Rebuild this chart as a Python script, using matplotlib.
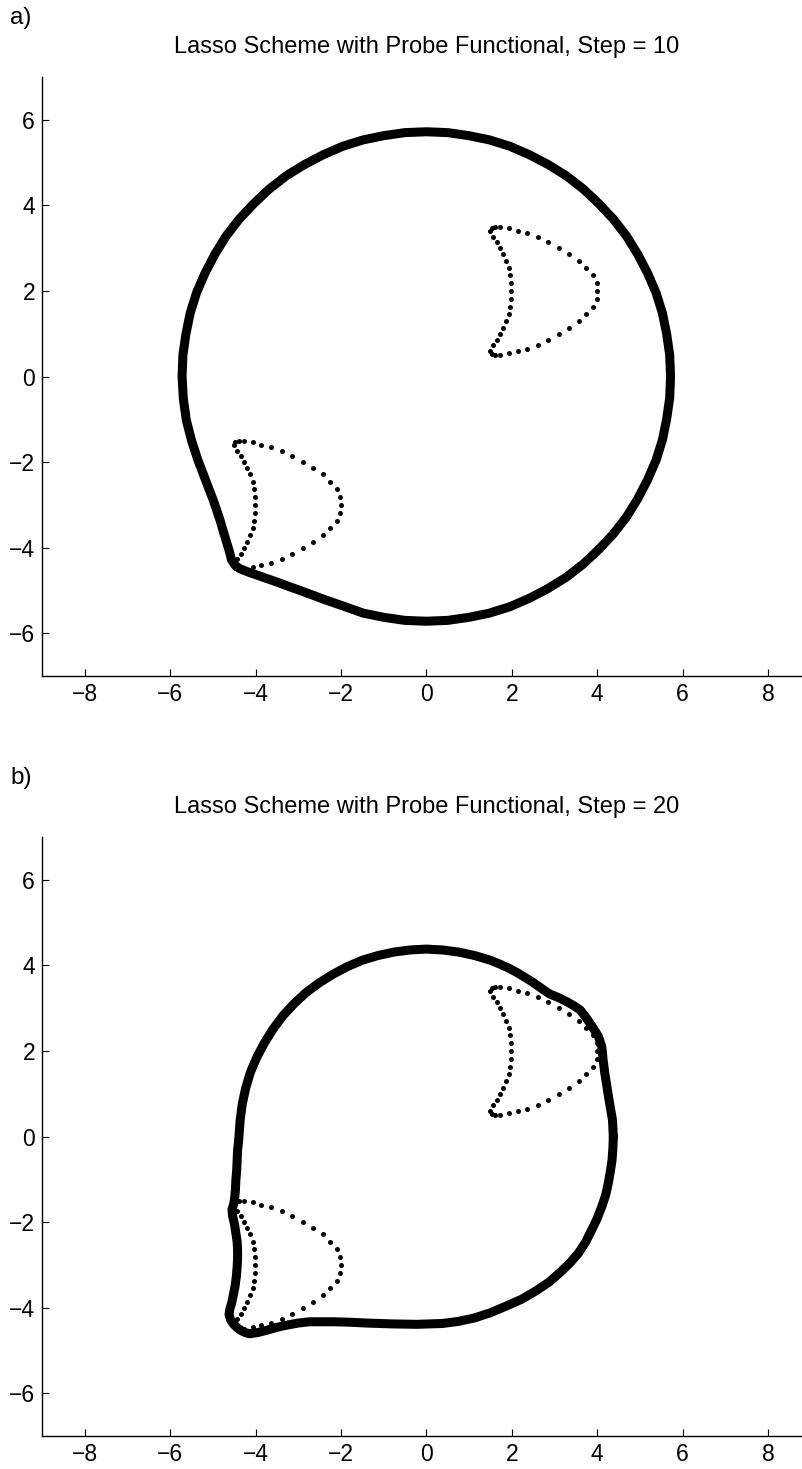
import numpy as np
import matplotlib
matplotlib.use("Agg")
import matplotlib.pyplot as plt

plt.rcParams['font.family'] = ['Liberation Sans', 'DejaVu Sans']

titles = ["Lasso Scheme with Probe Functional, Step = 10",
          "Lasso Scheme with Probe Functional, Step = 20"]
panel_labels = ["a)", "b)"]
xticks = [-8, -6, -4, -2, 0, 2, 4, 6, 8]
yticks = [-6, -4, -2, 0, 2, 4, 6]

# probe crescent (upper right)
cres1_x = [4.00, 3.99, 3.91, 3.75, 3.57, 3.35, 3.11, 2.86, 2.61, 2.36, 2.14, 1.94, 1.72, 1.61, 1.53, 1.50,
           1.57, 1.65, 1.72, 1.80, 1.86, 1.93, 1.96, 1.98, 1.98, 1.98, 1.96, 1.93, 1.86, 1.80, 1.72, 1.65,
           1.57, 1.50, 1.53, 1.61, 1.72, 1.94, 2.14, 2.36, 2.61, 2.86, 3.11, 3.35, 3.57, 3.75, 3.91, 3.99]
cres1_y = [2.00, 2.18, 2.37, 2.54, 2.71, 2.87, 3.01, 3.14, 3.26, 3.35, 3.40, 3.46, 3.50, 3.50, 3.47, 3.40,
           3.26, 3.14, 3.01, 2.87, 2.71, 2.54, 2.37, 2.18, 2.00, 1.82, 1.63, 1.46, 1.29, 1.13, 0.99, 0.86,
           0.74, 0.60, 0.53, 0.50, 0.50, 0.54, 0.60, 0.65, 0.74, 0.86, 0.99, 1.13, 1.29, 1.46, 1.63, 1.82]
# probe crescent (lower left)
cres2_x = [-2.00, -2.01, -2.09, -2.25, -2.43, -2.65, -2.89, -3.14, -3.39, -3.64, -3.86, -4.06, -4.28, -4.39,
           -4.47, -4.50, -4.43, -4.35, -4.28, -4.20, -4.14, -4.07, -4.04, -4.02, -4.02, -4.02, -4.04, -4.07,
           -4.14, -4.20, -4.28, -4.35, -4.43, -4.50, -4.47, -4.39, -4.28, -4.06, -3.86, -3.64, -3.39, -3.14,
           -2.89, -2.65, -2.43, -2.25, -2.09, -2.01]
cres2_y = [-3.00, -2.82, -2.63, -2.46, -2.29, -2.13, -1.99, -1.86, -1.74, -1.65, -1.60, -1.54, -1.50, -1.50,
           -1.53, -1.60, -1.74, -1.86, -1.99, -2.13, -2.29, -2.46, -2.63, -2.82, -3.00, -3.18, -3.37, -3.54,
           -3.71, -3.87, -4.01, -4.14, -4.26, -4.40, -4.47, -4.50, -4.50, -4.46, -4.40, -4.35, -4.26, -4.14,
           -4.01, -3.87, -3.71, -3.54, -3.37, -3.18]

# lasso curve, step 10
lasso10_x = [5.72, 5.70, 5.63, 5.53, 5.38, 5.18, 4.95, 4.69, 4.38, 4.04, 3.68, 3.28, 2.86, 2.42, 1.96, 1.48,
             0.99, 0.50, 0.00, -0.50, -0.99, -1.48, -1.96, -2.42, -2.86, -3.28, -3.68, -4.04, -4.38, -4.69,
             -4.95, -5.18, -5.38, -5.53, -5.63, -5.70, -5.72,
             -5.69, -5.62, -5.50, -5.35, -5.17, -4.99, -4.91, -4.83, -4.76, -4.69, -4.62, -4.56,
             -4.47, -4.37, -4.17, -3.97, -3.74, -3.51, -3.24, -2.96, -2.66, -2.42, -1.96,
             -1.48, -0.99, -0.50, 0.00, 0.50, 0.99, 1.48, 1.96, 2.42, 2.86, 3.28, 3.68, 4.04, 4.38, 4.69,
             4.95, 5.18, 5.38, 5.53, 5.63, 5.70]
lasso10_y = [0.00, 0.50, 0.99, 1.48, 1.96, 2.42, 2.86, 3.28, 3.68, 4.04, 4.38, 4.69, 4.95, 5.18, 5.38, 5.53,
             5.63, 5.70, 5.72, 5.70, 5.63, 5.53, 5.38, 5.18, 4.95, 4.69, 4.38, 4.04, 3.68, 3.28,
             2.86, 2.42, 1.96, 1.48, 0.99, 0.50, 0.00,
             -0.52, -1.02, -1.49, -1.95, -2.42, -2.89, -3.12, -3.36, -3.60, -3.83, -4.06, -4.29,
             -4.42, -4.49, -4.57, -4.64, -4.72, -4.80, -4.90, -5.00, -5.11, -5.20, -5.36,
             -5.53, -5.63, -5.70, -5.72, -5.70, -5.63, -5.53, -5.38, -5.18, -4.95, -4.69, -4.38, -4.04, -3.68, -3.28,
             -2.86, -2.42, -1.96, -1.48, -0.99, -0.50]

# lasso curve, step 20
lasso20_x = [4.38, 4.36, 4.32, 4.28, 4.23, 4.18, 4.14, 4.11, 4.03, 3.93, 3.83, 3.72, 3.60, 3.45, 3.29, 3.09,
             2.89, 2.70, 2.50, 2.31, 2.11, 1.92, 1.72, 1.50, 1.13, 0.76, 0.38, 0.00, -0.38, -0.76, -1.13,
             -1.50, -1.85, -2.19, -2.51, -2.82, -3.10, -3.36, -3.59, -3.79, -3.97, -4.12,
             -4.23, -4.31, -4.36, -4.38, -4.40, -4.42, -4.43, -4.44, -4.46, -4.47, -4.49, -4.51, -4.55,
             -4.54, -4.49, -4.46, -4.43, -4.42, -4.42, -4.43, -4.45, -4.48, -4.52, -4.56, -4.60, -4.62,
             -4.58, -4.52, -4.43, -4.33, -4.22, -4.13, -3.94, -3.74, -3.50, -3.27, -3.00, -2.73, -2.45,
             -2.18, -1.80, -1.40, -0.80, -0.23, 0.38, 0.76, 1.13, 1.50, 1.88, 2.24, 2.58, 2.88, 3.13, 3.36,
             3.56, 3.73, 3.87, 4.00, 4.11, 4.20, 4.26, 4.31, 4.35, 4.37]
lasso20_y = [0.00, 0.39, 0.62, 0.85, 1.17, 1.48, 1.80, 2.10, 2.34, 2.50, 2.65, 2.81, 2.96, 3.06, 3.15, 3.25,
             3.33, 3.46, 3.60, 3.72, 3.84, 3.94, 4.03, 4.12, 4.23, 4.31, 4.36, 4.38, 4.36, 4.31, 4.23,
             4.12, 3.97, 3.79, 3.59, 3.36, 3.10, 2.82, 2.51, 2.19, 1.85, 1.50,
             1.13, 0.76, 0.38, 0.10, -0.15, -0.32, -0.55, -0.78, -1.02, -1.25, -1.45, -1.58, -1.70,
             -1.84, -2.06, -2.26, -2.46, -2.65, -2.85, -3.05, -3.28, -3.51, -3.71, -3.90, -4.03, -4.16,
             -4.29, -4.38, -4.47, -4.54, -4.59, -4.61, -4.58, -4.53, -4.46, -4.41, -4.36, -4.33, -4.33,
             -4.33, -4.34, -4.36, -4.38, -4.39, -4.37, -4.32, -4.24, -4.12, -3.96, -3.80, -3.60, -3.40, -3.18, -2.96,
             -2.73, -2.47, -2.19, -1.92, -1.64, -1.37, -1.10, -0.82, -0.55, -0.27]

curves = [(lasso10_x, lasso10_y), (lasso20_x, lasso20_y)]

W, H = 802, 1469
fig = plt.figure(figsize=(W / 100, H / 100), dpi=100)

ax_left = 42 / W
ax_w = 768.6 / W
ax_h = 599 / H
bottoms = [(H - 676) / H, (H - 1436) / H]
label_y = [18, 778]
title_y = [47, 807]

for i in range(2):
    ax = fig.add_axes([ax_left, bottoms[i], ax_w, ax_h])
    cx, cy = curves[i]
    ax.plot(np.r_[cx, cx[:1]], np.r_[cy, cy[:1]], '-', color='black', lw=6.5,
            solid_joinstyle='round', solid_capstyle='round')
    ax.plot(cres1_x, cres1_y, 'o', color='black', ms=3.6, mew=0)
    ax.plot(cres2_x, cres2_y, 'o', color='black', ms=3.6, mew=0)
    ax.set_xlim(-9, 9)
    ax.set_ylim(-7, 7)
    ax.set_xticks(xticks)
    ax.set_yticks(yticks)
    ax.set_xticklabels([str(t).replace('-', '\u2212') for t in xticks])
    ax.set_yticklabels([str(t).replace('-', '\u2212') for t in yticks])
    ax.spines['top'].set_visible(False)
    ax.spines['right'].set_visible(False)
    ax.spines['left'].set_linewidth(1.0)
    ax.spines['bottom'].set_linewidth(1.0)
    ax.tick_params(direction='in', length=5, width=0.8, labelsize=16.5, pad=5)
    fig.text(0.5 * (42 + 811) / W, 1 - title_y[i] / H, titles[i], ha='center', va='center', fontsize=17)
    fig.text(10 / W, 1 - label_y[i] / H, panel_labels[i], ha='left', va='center', fontsize=17.5)

fig.savefig("out.png", dpi=100)
